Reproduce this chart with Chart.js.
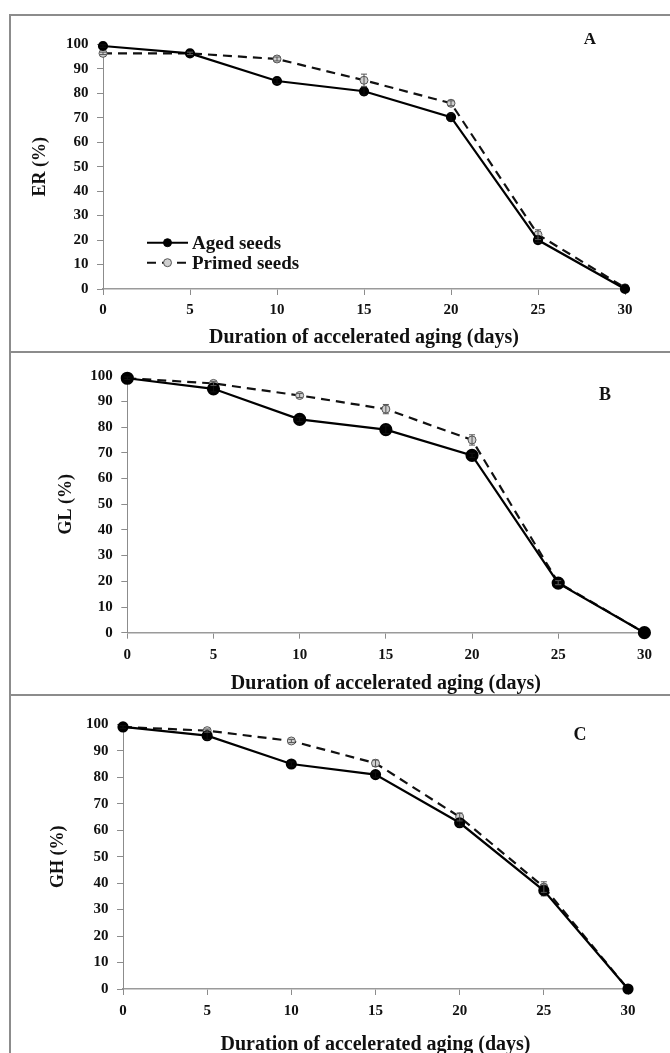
<!DOCTYPE html>
<html>
<head>
<meta charset="utf-8">
<script src="https://cdn.jsdelivr.net/npm/chart.js@4"></script>
<style>
  body { margin: 0; background: #fff; }
  #page { position: relative; width: 670px; height: 1053px; overflow: hidden; }
  canvas { position: absolute; }
  .frame { position: absolute; left: 9px; top: 14px; width: 661px; height: 1039px;
           border-left: 2px solid #8c8c8c; border-top: 2px solid #8c8c8c; box-sizing: border-box; }
  .sep { position: absolute; left: 9px; width: 661px; height: 2px; background: #8c8c8c; }
  .letter { position: absolute; font: bold 18px "Liberation Serif", "Times New Roman", serif;
            color: #111; transform: translate(-50%, -50%); }
</style>
</head>
<body>
<div id="page">
  <div class="frame"></div>
  <div class="sep" style="top:351px"></div>
  <div class="sep" style="top:694px"></div>
  <canvas id="chartA" width="658" height="337" style="left:10px;top:15px"></canvas>
  <canvas id="chartB" width="658" height="342" style="left:10px;top:353px"></canvas>
  <canvas id="chartC" width="658" height="357" style="left:10px;top:696px"></canvas>
  <div class="letter" style="left:590px;top:39px;font-size:17px">A</div>
  <div class="letter" style="left:605px;top:394px">B</div>
  <div class="letter" style="left:580px;top:734px">C</div>
</div>
<script>
const days = [0, 5, 10, 15, 20, 25, 30];

// panel A - ER (%)
const erAged = [99.3, 96.3, 85, 80.8, 70.2, 20, 0];
const erPrimed = [96.3, 96.3, 94, 85.3, 75.9, 22.2, 0.5];
const erAgedErr = [0.5, 0.5, 1, 1.5, 1.5, 1, 0];
const erPrimedErr = [0.5, 0.5, 0.8, 2.5, 1, 2, 0];

// panel B - GL (%)
const glAged = [99, 94.9, 83, 79, 69, 19.3, 0];
const glPrimed = [99, 97, 92.3, 87, 75, 19.5, 0];
const glAgedErr = [0.5, 1.2, 0.8, 1.5, 0.8, 0.8, 0];
const glPrimedErr = [0, 0.8, 0.8, 1.8, 2, 0.8, 0];

// panel C - GH (%)
const ghAged = [99, 95.7, 85, 81, 62.8, 37.2, 0];
const ghPrimed = [99, 97.6, 93.7, 85.3, 65, 38.5, 0];
const ghAgedErr = [0.5, 1.5, 0.8, 1, 1.2, 2, 0];
const ghPrimedErr = [0, 0.6, 0.6, 1.2, 1.5, 2, 0];

const yTicks = [0, 10, 20, 30, 40, 50, 60, 70, 80, 90, 100];
const xTitle = "Duration of accelerated aging (days)";
const seriesNames = ["Aged seeds", "Primed seeds"];

const serif = "'Liberation Serif', 'Times New Roman', serif";

const toPoints = (values) => days.map((d, i) => ({ x: d, y: values[i] }));

// vertical error bars, drawn with the chart's own scales
const errorBars = {
    id: "errorBars",
    afterDatasetsDraw(chart) {
        const ctx = chart.ctx;
        const yScale = chart.scales.y;
        chart.data.datasets.forEach((ds, di) => {
            if (!ds.errors) return;
            const meta = chart.getDatasetMeta(di);
            ctx.save();
            ctx.strokeStyle = ds.errorColor;
            ctx.lineWidth = 1;
            meta.data.forEach((pt, i) => {
                const e = ds.errors[i];
                if (!e) return;
                const v = ds.data[i].y;
                const y1 = yScale.getPixelForValue(v + e);
                const y2 = yScale.getPixelForValue(v - e);
                ctx.beginPath();
                ctx.moveTo(pt.x, y1); ctx.lineTo(pt.x, y2);
                ctx.moveTo(pt.x - 3, y1); ctx.lineTo(pt.x + 3, y1);
                ctx.moveTo(pt.x - 3, y2); ctx.lineTo(pt.x + 3, y2);
                ctx.stroke();
            });
            ctx.restore();
        });
    }
};

// legend inside the plot area (panel A only)
const insideLegend = {
    id: "insideLegend",
    afterDraw(chart, args, opts) {
        if (!opts.show) return;
        const ctx = chart.ctx;
        ctx.save();
        chart.data.datasets.forEach((ds, i) => {
            const y = opts.y + i * opts.gap;
            ctx.strokeStyle = ds.borderColor;
            ctx.lineWidth = 2;
            ctx.setLineDash(ds.borderDash || []);
            ctx.beginPath();
            ctx.moveTo(opts.x0, y);
            ctx.lineTo(opts.x1, y);
            ctx.stroke();
            ctx.setLineDash([]);
            ctx.beginPath();
            ctx.arc((opts.x0 + opts.x1) / 2, y, 4, 0, Math.PI * 2);
            ctx.fillStyle = ds.pointBackgroundColor;
            ctx.fill();
            ctx.lineWidth = 1;
            ctx.strokeStyle = ds.pointBorderColor;
            ctx.stroke();
            ctx.fillStyle = "#111";
            ctx.font = "bold 19px " + serif;
            ctx.textBaseline = "middle";
            ctx.fillText(ds.label, opts.x1 + 4, y + 1);
        });
        ctx.restore();
    }
};

function createPanel(id, aged, primed, agedErr, primedErr, yLabel, g) {
    const ctx = document.getElementById(id).getContext("2d");

    const data = {
        datasets: [
            {
                label: seriesNames[0],
                data: toPoints(aged),
                errors: agedErr,
                errorColor: "#111",
                borderColor: "#000",
                borderWidth: 2.2,
                pointRadius: g.aRadius,
                pointBackgroundColor: "#000",
                pointBorderColor: "#000",
                clip: false,
                order: 0,
            },
            {
                label: seriesNames[1],
                data: toPoints(primed),
                errors: primedErr,
                errorColor: "#555",
                borderColor: "#111",
                borderWidth: 2.2,
                borderDash: [9, 6],
                pointRadius: 4,
                pointBackgroundColor: "#cfcfcf",
                pointBorderColor: "#555",
                pointBorderWidth: 1,
                clip: false,
                order: 1,
            },
        ],
    };

    return new Chart(ctx, {
        type: "line",
        data: data,
        plugins: [errorBars, insideLegend],
        options: {
            responsive: false,
            animation: false,
            layout: { padding: { left: 0, right: g.right, top: g.top, bottom: 0 } },
            plugins: {
                legend: { display: false },
                tooltip: { enabled: false },
                insideLegend: g.legend || { show: false },
            },
            scales: {
                x: {
                    type: "linear",
                    min: 0,
                    max: 30,
                    afterFit: (s) => { s.height = g.xHeight; },
                    afterBuildTicks: (s) => { s.ticks = days.map(v => ({ value: v })); },
                    grid: { display: true, drawOnChartArea: false, color: "#8c8c8c", tickLength: 6 },
                    border: { display: true, color: "#9a9a9a", width: 1.5 },
                    ticks: { padding: g.xPad, color: "#111", font: { family: serif, size: 15, weight: "bold" } },
                    title: {
                        display: true,
                        text: xTitle,
                        color: "#111",
                        padding: { top: 0, bottom: g.titlePad },
                        font: { family: serif, size: 20, weight: "bold", lineHeight: 1 },
                    },
                },
                y: {
                    min: 0,
                    max: 100,
                    afterFit: (s) => { s.width = g.yWidth; },
                    afterBuildTicks: (s) => { s.ticks = yTicks.map(v => ({ value: v })); },
                    grid: { display: true, drawOnChartArea: false, color: "#8c8c8c", tickLength: 6 },
                    border: { display: true, color: "#8c8c8c", width: 1 },
                    ticks: { padding: 8.5, color: "#111", font: { family: serif, size: 15, weight: "bold" } },
                    title: {
                        display: true,
                        text: yLabel,
                        color: "#111",
                        padding: { top: g.yTitlePad, bottom: 0 },
                        font: { family: serif, size: 18, weight: "bold" },
                    },
                },
            },
        },
    });
}

createPanel("chartA", erAged, erPrimed, erAgedErr, erPrimedErr, "ER (%)", {
    top: 29.3, right: 43, yWidth: 93, xHeight: 63, xPad: 6, titlePad: 4, yTitlePad: 19.2, aRadius: 4,
    legend: { show: true, x0: 137, x1: 178, y: 227.7, gap: 20 },
});
createPanel("chartB", glAged, glPrimed, glAgedErr, glPrimedErr, "GL (%)", {
    top: 22.7, right: 23.6, yWidth: 117.3, xHeight: 62.3, xPad: 7, titlePad: 1, yTitlePad: 45.2, aRadius: 5.5,
});
createPanel("chartC", ghAged, ghPrimed, ghAgedErr, ghPrimedErr, "GH (%)", {
    top: 28.3, right: 40, yWidth: 113, xHeight: 64, xPad: 7, titlePad: -2, yTitlePad: 37.2, aRadius: 4.5,
});
</script>
</body>
</html>
